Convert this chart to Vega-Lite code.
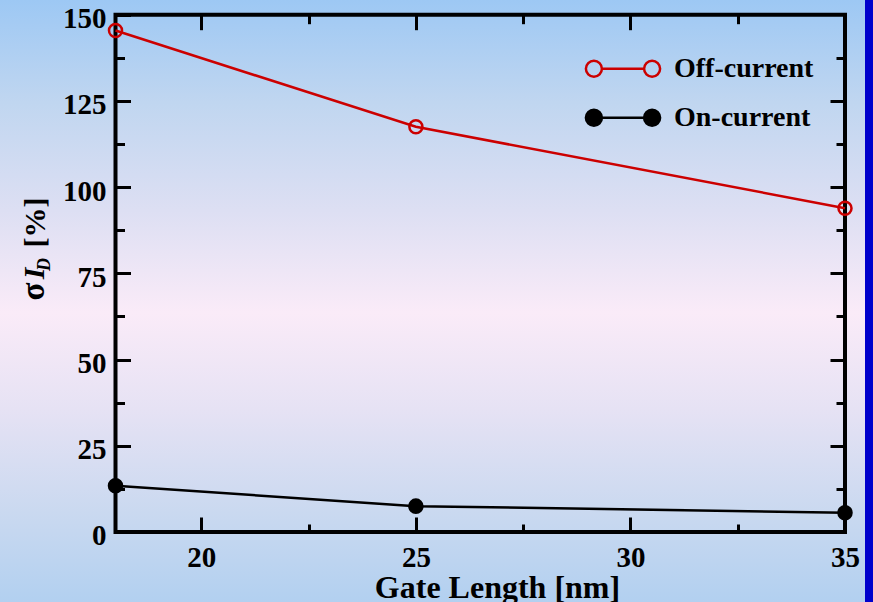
{
  "$schema": "https://vega.github.io/schema/vega-lite/v6.json",
  "width": 865,
  "height": 602,
  "autosize": {"type": "none"},
  "padding": {"left": 0, "top": 0, "right": 8, "bottom": 0},
  "background": "#0000CC",
  "config": {
    "font": "Liberation Serif",
    "view": {
      "stroke": null,
      "fill": {
        "gradient": "linear",
        "x1": 0, "y1": 0, "x2": 0, "y2": 1,
        "stops": [
          {"offset": 0, "color": "#9DC8F4"},
          {"offset": 0.17, "color": "#C0D6F0"},
          {"offset": 0.35, "color": "#DDDFF3"},
          {"offset": 0.52, "color": "#FAEBF8"},
          {"offset": 0.68, "color": "#E6E2F4"},
          {"offset": 0.85, "color": "#CAD9F0"},
          {"offset": 1, "color": "#B2D0F0"}
        ]
      }
    },
    "axis": {
      "domain": false,
      "grid": false,
      "tickColor": "black",
      "tickWidth": 3,
      "labelFont": "Liberation Serif",
      "labelFontWeight": "bold",
      "labelFontSize": 29,
      "labelColor": "black",
      "titleFont": "Liberation Serif",
      "titleFontWeight": "bold",
      "titleColor": "black"
    }
  },
  "data": {
    "values": [
      {"length": 18, "sigma": 145.4, "series": "Off-current"},
      {"length": 25, "sigma": 117.5, "series": "Off-current"},
      {"length": 35, "sigma": 93.9, "series": "Off-current"},
      {"length": 18, "sigma": 13.4, "series": "On-current"},
      {"length": 25, "sigma": 7.5, "series": "On-current"},
      {"length": 35, "sigma": 5.6, "series": "On-current"}
    ]
  },
  "layer": [
    {
      "data": {"values": [{}]},
      "mark": {"type": "rect", "fill": "transparent", "stroke": "black", "strokeWidth": 4},
      "encoding": {
        "x": {
          "datum": 18, "type": "quantitative",
          "scale": {"domain": [15.3084, 35.4661], "nice": false, "zero": false},
          "axis": {
            "orient": "bottom", "offset": -70, "values": [20, 25, 30, 35],
            "tickSize": -15, "labelPadding": 26,
            "title": "Gate Length [nm]", "titleFontSize": 32,
            "titleX": 497, "titleY": 65, "titleAlign": "center", "titleBaseline": "alphabetic"
          }
        },
        "x2": {"datum": 35},
        "y": {
          "datum": 0, "type": "quantitative",
          "scale": {"domain": [-20.298, 154.2625], "nice": false, "zero": false},
          "axis": {
            "orient": "left", "offset": -115.5, "values": [0, 25, 50, 75, 100, 125, 150],
            "tickSize": -15, "labelPadding": 24.5, "labelOffset": 4,
            "title": "σ", "titleFontSize": 33, "titleAngle": -90,
            "titleX": -72.5, "titleY": 291, "titleAlign": "center", "titleBaseline": "alphabetic"
          }
        },
        "y2": {"datum": 150}
      }
    },
    {
      "transform": [{"filter": "datum.series === 'Off-current'"}],
      "mark": {"type": "line", "stroke": "#CC0000", "strokeWidth": 2.5},
      "encoding": {
        "x": {
          "field": "length", "type": "quantitative",
          "scale": {"domain": [15.3084, 35.4661], "nice": false, "zero": false},
          "axis": {"orient": "bottom", "offset": -70, "values": [22.5, 27.5, 32.5], "tickSize": -8, "labels": false, "title": null}
        },
        "y": {
          "field": "sigma", "type": "quantitative",
          "scale": {"domain": [-20.298, 154.2625], "nice": false, "zero": false},
          "axis": {
            "orient": "left", "offset": -115.5, "values": [12.5, 37.5, 62.5, 87.5, 112.5, 137.5],
            "tickSize": -9, "labels": false,
            "title": "I", "titleFontSize": 30, "titleFontStyle": "italic", "titleAngle": -90,
            "titleX": -72.5, "titleY": 273, "titleAlign": "center", "titleBaseline": "alphabetic"
          }
        }
      }
    },
    {
      "transform": [{"filter": "datum.series === 'On-current'"}],
      "mark": {"type": "line", "stroke": "black", "strokeWidth": 2.5},
      "encoding": {
        "x": {
          "field": "length", "type": "quantitative",
          "scale": {"domain": [15.3084, 35.4661], "nice": false, "zero": false},
          "axis": {"orient": "top", "offset": -14.7, "values": [20, 25, 30], "tickSize": -15, "labels": false, "title": null}
        },
        "y": {
          "field": "sigma", "type": "quantitative",
          "scale": {"domain": [-20.298, 154.2625], "nice": false, "zero": false},
          "axis": {
            "orient": "right", "offset": -20, "values": [25, 50, 75, 100, 125],
            "tickSize": -15, "labels": false,
            "title": "D", "titleFontSize": 18, "titleFontStyle": "italic", "titleAngle": -90,
            "titleX": -796, "titleY": 264, "titleAlign": "center", "titleBaseline": "alphabetic"
          }
        }
      }
    },
    {
      "mark": {"type": "point", "shape": "circle", "size": 170, "strokeWidth": 2.5, "opacity": 1},
      "encoding": {
        "x": {
          "field": "length", "type": "quantitative",
          "scale": {"domain": [15.3084, 35.4661], "nice": false, "zero": false},
          "axis": {"orient": "top", "offset": -14.7, "values": [22.5, 27.5, 32.5], "tickSize": -9, "labels": false, "title": null}
        },
        "y": {
          "field": "sigma", "type": "quantitative",
          "scale": {"domain": [-20.298, 154.2625], "nice": false, "zero": false},
          "axis": {
            "orient": "right", "offset": -20, "values": [12.5, 37.5, 62.5, 87.5, 112.5, 137.5],
            "tickSize": -9, "labels": false,
            "title": "[%]", "titleFontSize": 30, "titleAngle": -90,
            "titleX": -801, "titleY": 222, "titleAlign": "center", "titleBaseline": "alphabetic"
          }
        },
        "stroke": {
          "field": "series", "type": "nominal",
          "scale": {"domain": ["Off-current", "On-current"], "range": ["#CC0000", "black"]},
          "legend": {
            "title": null, "orient": "none", "legendX": 606.5, "legendY": 52.3, "padding": 0,
            "symbolType": "M-1.407,0L1.407,0M-1.407,0A0.533,0.533,0,1,1,-2.473,0A0.533,0.533,0,1,1,-1.407,0ZM2.473,0A0.533,0.533,0,1,1,1.407,0A0.533,0.533,0,1,1,2.473,0Z",
            "symbolSize": 900, "symbolStrokeWidth": 2.5, "labelOffset": 34.5,
            "labelFont": "Liberation Serif", "labelFontWeight": "bold", "labelFontSize": 28,
            "labelColor": "black", "labelBaseline": "middle", "rowPadding": 18
          }
        },
        "fill": {
          "field": "series", "type": "nominal",
          "scale": {"domain": ["Off-current", "On-current"], "range": ["transparent", "black"]},
          "legend": {
            "title": null, "orient": "none", "legendX": 606.5, "legendY": 52.3, "padding": 0,
            "symbolType": "M-1.407,0L1.407,0M-1.407,0A0.533,0.533,0,1,1,-2.473,0A0.533,0.533,0,1,1,-1.407,0ZM2.473,0A0.533,0.533,0,1,1,1.407,0A0.533,0.533,0,1,1,2.473,0Z",
            "symbolSize": 900, "symbolStrokeWidth": 2.5, "labelOffset": 34.5,
            "labelFont": "Liberation Serif", "labelFontWeight": "bold", "labelFontSize": 28,
            "labelColor": "black", "labelBaseline": "middle", "rowPadding": 18
          }
        }
      }
    }
  ],
  "resolve": {"axis": {"x": "independent", "y": "independent"}}
}
